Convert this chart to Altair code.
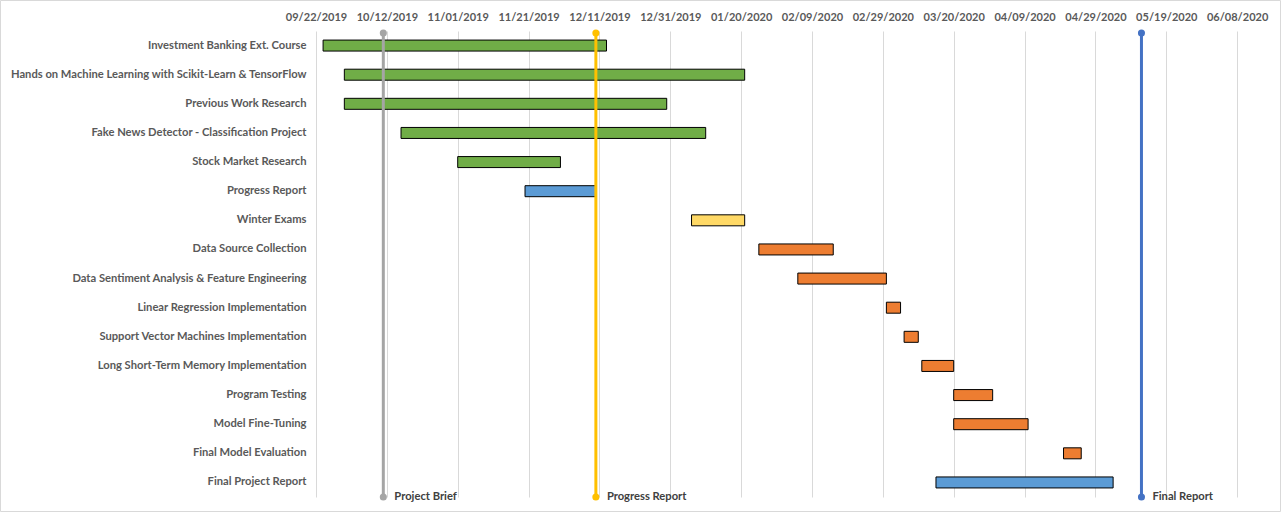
import altair as alt
import pandas as pd

tasks = [
    "Investment Banking Ext. Course",
    "Hands on Machine Learning with Scikit-Learn & TensorFlow",
    "Previous Work Research",
    "Fake News Detector - Classification Project",
    "Stock Market Research",
    "Progress Report",
    "Winter Exams",
    "Data Source Collection",
    "Data Sentiment Analysis & Feature Engineering",
    "Linear Regression Implementation",
    "Support Vector Machines Implementation",
    "Long Short-Term Memory Implementation",
    "Program Testing",
    "Model Fine-Tuning",
    "Final Model Evaluation",
    "Final Project Report",
]
starts = [
    "2019-09-24", "2019-09-30", "2019-09-30", "2019-10-16", "2019-11-01",
    "2019-11-20", "2020-01-06", "2020-01-25", "2020-02-05", "2020-03-01",
    "2020-03-06", "2020-03-11", "2020-03-20", "2020-03-20", "2020-04-20",
    "2020-03-15",
]
ends = [
    "2019-12-13", "2020-01-21", "2019-12-30", "2020-01-10", "2019-11-30",
    "2019-12-10", "2020-01-21", "2020-02-15", "2020-03-01", "2020-03-05",
    "2020-03-10", "2020-03-20", "2020-03-31", "2020-04-10", "2020-04-25",
    "2020-05-04",
]
groups = [
    "Study", "Study", "Study", "Study", "Study",
    "Report", "Exams", "Dev", "Dev", "Dev",
    "Dev", "Dev", "Dev", "Dev", "Dev",
    "Report",
]
group_names = ["Study", "Report", "Exams", "Dev"]
group_colors = ["#70AD47", "#5B9BD5", "#FFD966", "#ED7D31"]

milestones = ["Project Brief", "Progress Report", "Final Report"]
milestone_dates = ["2019-10-11", "2019-12-10", "2020-05-12"]
milestone_colors = ["#A5A5A5", "#FFC000", "#4472C4"]

tick_labels = [
    "09/22/2019", "10/12/2019", "11/01/2019", "11/21/2019", "12/11/2019",
    "12/31/2019", "01/20/2020", "02/09/2020", "02/29/2020", "03/20/2020",
    "04/09/2020", "04/29/2020", "05/19/2020", "06/08/2020",
]
domain_start = "2019-09-22"
domain_end = "2020-06-17"


def ms(s):
    return int(pd.Timestamp(s).value // 10**6)


tick_values = [ms(pd.to_datetime(t, format="%m/%d/%Y")) for t in tick_labels]

W, H = 953, 466
FONT = "Lato"
TXT = "#595959"

df = pd.DataFrame({"task": tasks, "start": starts, "end": ends, "group": groups})
ms_df = pd.DataFrame({"name": milestones, "date": milestone_dates, "color": milestone_colors})

xscale = alt.Scale(type="utc", domain=[ms(domain_start), ms(domain_end)], nice=False)

bars = alt.Chart(df).mark_bar(height=11, stroke="black", strokeWidth=1).encode(
    x=alt.X("start:T", scale=xscale, title=None,
            axis=alt.Axis(orient="top", values=tick_values, format="%m/%d/%Y",
                          labelFont=FONT, labelFontSize=11, labelFontWeight="bold",
                          labelColor=TXT, labelPadding=9, ticks=False, domain=False,
                          labelOverlap=False, labelBound=False, labelFlush=False,
                          grid=True, gridColor="#D9D9D9", gridWidth=1)),
    x2="end:T",
    y=alt.Y("task:N", sort=tasks, title=None,
            axis=alt.Axis(labelFont=FONT, labelFontSize=11.2, labelFontWeight="bold",
                          labelColor=TXT, labelPadding=10, ticks=False, domain=False,
                          grid=False, labelLimit=400)),
    color=alt.Color("group:N", scale=alt.Scale(domain=group_names, range=group_colors),
                    legend=None),
)

mcolor = alt.Color("color:N", scale=None, legend=None)

rules = alt.Chart(ms_df).mark_rule(strokeWidth=3).encode(
    x=alt.X("date:T", scale=xscale),
    y=alt.value(2), y2=alt.value(H),
    color=mcolor,
)
top_dots = alt.Chart(ms_df).mark_circle(size=50, opacity=1).encode(
    x=alt.X("date:T", scale=xscale), y=alt.value(2), color=mcolor,
)
bot_dots = alt.Chart(ms_df).mark_circle(size=50, opacity=1).encode(
    x=alt.X("date:T", scale=xscale), y=alt.value(H), color=mcolor,
)
labels = alt.Chart(ms_df).mark_text(
    align="left", baseline="middle", dx=11, font=FONT, fontSize=11.2,
    fontWeight="bold", color="#404040",
).encode(
    x=alt.X("date:T", scale=xscale), y=alt.value(H), text="name:N",
)

frame = alt.Chart(pd.DataFrame({"a": [0]})).mark_rect(
    fill=None, stroke="#D9D9D9", strokeWidth=1
).encode(
    x=alt.value(-315.5), x2=alt.value(964.5),
    y=alt.value(-30.5), y2=alt.value(480.5),
)

chart = alt.layer(frame, bars, rules, top_dots, bot_dots, labels).properties(
    width=W, height=H,
    autosize=alt.AutoSizeParams(type="none"),
    padding={"left": 316, "top": 31, "right": 13, "bottom": 16},
    background="white",
).configure_view(stroke=None)

chart.save("out.html", embed_options={"renderer": "svg", "actions": False})
